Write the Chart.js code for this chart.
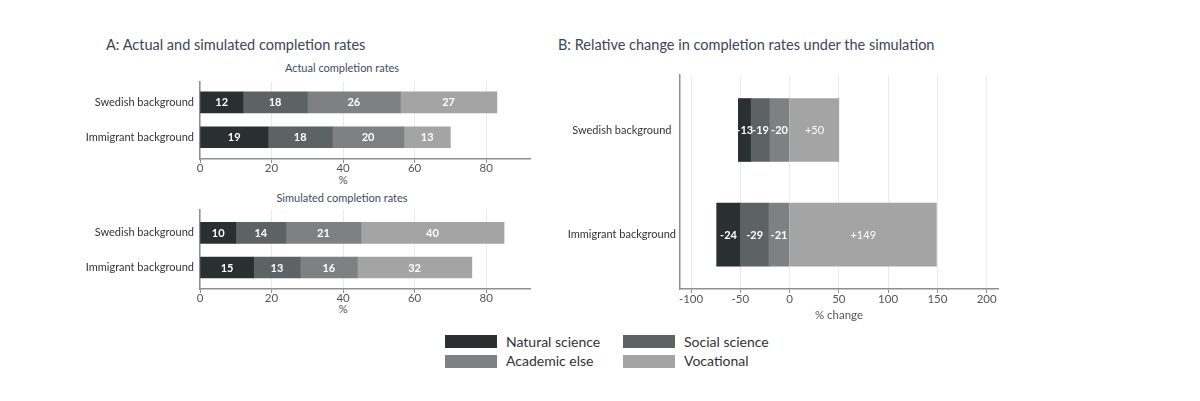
<!DOCTYPE html>
<html><head><meta charset="utf-8">
<script src="https://cdn.jsdelivr.net/npm/chart.js@4.4.1/dist/chart.umd.min.js"></script>
<style>
html,body{margin:0;padding:0;background:#fff;}
body{width:1200px;height:401px;position:relative;overflow:hidden;font-family:Lato,sans-serif;}
.abs{position:absolute;white-space:nowrap;}
.title{font-size:14.5px;color:#3b4556;line-height:16px;}
.sub{font-size:11px;color:#3e4b63;line-height:12px;transform:translateX(-50%);}
.axt{font-size:11.5px;color:#555;line-height:12px;transform:translateX(-50%);}
canvas{position:absolute;}
.lg-box{position:absolute;width:52px;height:13px;}
.lg-txt{position:absolute;font-size:14px;color:#333;line-height:14px;white-space:nowrap;}
</style></head><body>
<div class="abs title" style="left:106px;top:37px;">A: Actual and simulated completion rates</div>
<div class="abs title" style="left:558px;top:37px;">B: Relative change in completion rates under the simulation</div>
<div class="abs sub" style="left:342px;top:61.5px;">Actual completion rates</div>
<div class="abs sub" style="left:342px;top:191.5px;">Simulated completion rates</div>
<div class="abs axt" style="left:343px;top:173.5px;">%</div>
<div class="abs axt" style="left:343px;top:303px;">%</div>
<canvas id="a1" width="560" height="109" style="left:0;top:70px;"></canvas>
<canvas id="a2" width="560" height="111" style="left:0;top:198px;"></canvas>
<canvas id="b" width="460" height="262" style="left:560px;top:60px;"></canvas>
<div id="legend"></div>
<script>
// ---- data ----
const categories = ['Swedish background', 'Immigrant background'];
const seriesNames = ['Natural science', 'Social science', 'Academic else', 'Vocational'];
const seriesColors = ['#2a302f', '#5d6263', '#7e8081', '#a4a4a4'];

const actualNatural = [12, 19];
const actualSocial = [18, 18];
const actualAcademic = [26, 20];
const actualVocational = [27, 13];

const simNatural = [10, 15];
const simSocial = [14, 13];
const simAcademic = [21, 16];
const simVocational = [40, 32];

const changeNatural = [-13, -24];
const changeSocial = [-19, -29];
const changeAcademic = [-20, -21];
const changeVocational = [50, 149];

const ticksA = [0, 20, 40, 60, 80];
const ticksB = [-100, -50, 0, 50, 100, 150, 200];

// ---- helpers ----
Chart.defaults.font.family = 'Lato, sans-serif';
Chart.defaults.animation = false;

const toPts = arr => arr.map((v, i) => ({x: v, y: i}));

const segLabels = {
  id: 'segLabels',
  afterDatasetsDraw(chart, args, opts) {
    const ctx = chart.ctx;
    chart.data.datasets.forEach((ds, di) => {
      const meta = chart.getDatasetMeta(di);
      meta.data.forEach((el, i) => {
        const v = ds.data[i].x;
        const p = el.getProps(['x', 'base', 'y'], true);
        const txt = opts.signed ? (v > 0 ? '+' + v : String(v)) : String(v);
        ctx.save();
        ctx.fillStyle = '#ffffff';
        ctx.font = (opts.signed && v > 0 ? 'normal ' : 'bold ') + '11px Lato, sans-serif';
        ctx.textAlign = 'center';
        ctx.textBaseline = 'middle';
        ctx.fillText(txt, (p.x + p.base) / 2, p.y + 0.5);
        ctx.restore();
      });
    });
  }
};

function makeChart(id, sets, cfg) {
  return new Chart(document.getElementById(id), {
    type: 'bar',
    data: {
      datasets: sets.map(s => ({
        label: s.label,
        data: toPts(s.values),
        backgroundColor: s.color,
        borderWidth: 0,
        barThickness: cfg.barThickness
      }))
    },
    options: {
      responsive: false,
      indexAxis: 'y',
      layout: {padding: cfg.padding},
      plugins: {legend: {display: false}, tooltip: {enabled: false}, segLabels: {signed: cfg.signed}},
      scales: {
        x: {
          type: 'linear', stacked: true, min: cfg.xMin, max: cfg.xMax, offset: false,
          afterBuildTicks: sc => { sc.ticks = cfg.xTicks.map(v => ({value: v})); },
          afterFit: sc => { sc.height = cfg.xHeight; },
          grid: {color: '#e7ebef', lineWidth: 1, drawTicks: true, tickLength: 4, tickColor: '#8f8f8f', tickWidth: 1, offset: false},
          border: {display: true, color: '#8f8f8f', width: 1.5},
          ticks: {color: '#555', font: {size: 11.5, lineHeight: 1}, padding: cfg.xTickPad, maxRotation: 0, autoSkip: false},
          title: cfg.xTitle ? {display: true, text: cfg.xTitle, color: '#555', font: {size: 11.5, lineHeight: 1.2}, padding: {top: 0, bottom: 0}} : {display: false}
        },
        y: {
          type: 'linear', stacked: true, reverse: true, min: cfg.yMin, max: cfg.yMax, offset: false,
          afterBuildTicks: sc => { sc.ticks = categories.map((c, i) => ({value: i})); },
          afterFit: sc => { sc.width = cfg.yWidth; },
          grid: {display: false, drawTicks: false, offset: false},
          border: {display: true, color: '#8f8f8f', width: 1.5},
          ticks: {color: '#333', font: {size: 11, lineHeight: 1}, padding: cfg.yTickPad, crossAlign: cfg.crossAlign, autoSkip: false,
                  callback: v => categories[v]}
        }
      }
    },
    plugins: [segLabels]
  });
}

const setsActual = [
  {label: seriesNames[0], values: actualNatural, color: seriesColors[0]},
  {label: seriesNames[1], values: actualSocial, color: seriesColors[1]},
  {label: seriesNames[2], values: actualAcademic, color: seriesColors[2]},
  {label: seriesNames[3], values: actualVocational, color: seriesColors[3]}
];
const setsSim = [
  {label: seriesNames[0], values: simNatural, color: seriesColors[0]},
  {label: seriesNames[1], values: simSocial, color: seriesColors[1]},
  {label: seriesNames[2], values: simAcademic, color: seriesColors[2]},
  {label: seriesNames[3], values: simVocational, color: seriesColors[3]}
];
// negative parts stack outward from zero: academic nearest zero, natural outermost
const setsChange = [
  {label: seriesNames[2], values: changeAcademic, color: seriesColors[2]},
  {label: seriesNames[1], values: changeSocial, color: seriesColors[1]},
  {label: seriesNames[0], values: changeNatural, color: seriesColors[0]},
  {label: seriesNames[3], values: changeVocational, color: seriesColors[3]}
];

makeChart('a1', setsActual, {
  barThickness: 21, padding: {top: 7, right: 29.5, bottom: 0, left: 0},
  xMin: 0, xMax: 92.4, xTicks: ticksA, xHeight: 20, xTickPad: 0,
  yMin: -0.6, yMax: 1.624, yWidth: 200, yTickPad: 6, crossAlign: 'near', signed: false
});
makeChart('a2', setsSim, {
  barThickness: 21, padding: {top: 7, right: 29.5, bottom: 0, left: 0},
  xMin: 0, xMax: 92.4, xTicks: ticksA, xHeight: 20, xTickPad: 0,
  yMin: -0.675, yMax: 1.62, yWidth: 200, yTickPad: 6, crossAlign: 'near', signed: false
});
makeChart('b', setsChange, {
  barThickness: 63, padding: {top: 15, right: 22, bottom: 0, left: 0},
  xMin: -111.2, xMax: 211.5, xTicks: ticksB, xHeight: 33, xTickPad: 1, xTitle: '% change',
  yMin: -0.526, yMax: 1.52, yWidth: 120, yTickPad: 4, crossAlign: 'center', signed: true
});

// ---- legend (2 x 2) ----
const legend = document.getElementById('legend');
const legendPos = [[445, 335], [623, 335], [445, 354.5], [623, 354.5]];
seriesNames.forEach((name, i) => {
  const [lx, ly] = legendPos[i];
  const box = document.createElement('div');
  box.className = 'lg-box';
  box.style.left = lx + 'px'; box.style.top = ly + 'px';
  box.style.background = seriesColors[i];
  legend.appendChild(box);
  const t = document.createElement('div');
  t.className = 'lg-txt';
  t.style.left = (lx + 61) + 'px'; t.style.top = (ly - 0.5) + 'px';
  t.textContent = name;
  legend.appendChild(t);
});
</script>
</body></html>
